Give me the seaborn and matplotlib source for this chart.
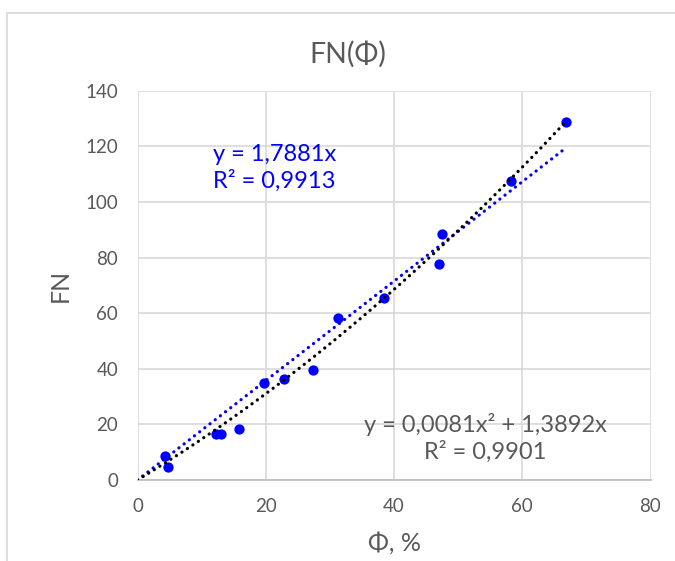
import numpy as np
import pandas as pd
import matplotlib
matplotlib.use("Agg")
import matplotlib.pyplot as plt
from matplotlib.patches import Rectangle
import seaborn as sns

# ---- data ----
phi = [4.3, 4.7, 12.3, 13.0, 15.9, 19.8, 22.8, 27.3, 31.3, 38.5, 47.0, 47.5, 58.2, 66.9]
fn = [8.6, 4.8, 16.5, 16.4, 18.2, 34.8, 36.3, 39.6, 58.3, 65.6, 77.6, 88.6, 107.6, 128.7]
lin_coef = 1.7881          # y = a*x
poly_coef = [0.0081, 1.3892]  # y = b*x^2 + c*x
x_ticks = [0, 20, 40, 60, 80]
y_ticks = [0, 20, 40, 60, 80, 100, 120, 140]
title = "FN(Φ)"
xlabel = "Φ, %"
ylabel = "FN"
lin_text = "y = 1,7881x\nR² = 0,9913"
poly_text = "y = 0,0081x² + 1,3892x\nR² = 0,9901"

sns.set_style("white")
plt.rcParams['font.family'] = ['Lato', 'DejaVu Sans']

GRAY = "#595959"
GRID = "#D9D9D9"
BLUE = "#0000FF"

W, H = 675, 561
fig = plt.figure(figsize=(W / 100, H / 100), dpi=100)
fig.patch.set_facecolor("white")

# outer chart border
fig.patches.append(Rectangle((7 / W, -0.1), 1.2, 1 - 13 / H + 0.1, transform=fig.transFigure,
                             fill=False, edgecolor=GRID, lw=1.2, zorder=0))

left, right = 137.5 / W, 650.5 / W
bottom, top = 1 - 480 / H, 1 - 90.8 / H
ax = fig.add_axes([left, bottom, right - left, top - bottom])

df = pd.DataFrame({"phi": phi, "fn": fn})
xs = np.linspace(0, max(phi), 200)
df_lin = pd.DataFrame({"x": xs, "y": lin_coef * xs})
df_poly = pd.DataFrame({"x": xs, "y": poly_coef[0] * xs ** 2 + poly_coef[1] * xs})

sns.scatterplot(data=df, x="phi", y="fn", ax=ax, color=BLUE, s=55, edgecolor=BLUE,
                linewidth=0, zorder=3, clip_on=False)
sns.lineplot(data=df_lin, x="x", y="y", ax=ax, color=BLUE, lw=2.3,
             linestyle=(0, (0.05, 2.0)), dash_capstyle="round", zorder=4)
sns.lineplot(data=df_poly, x="x", y="y", ax=ax, color="black", lw=2.3,
             linestyle=(0, (0.05, 2.0)), dash_capstyle="round", zorder=5)

ax.set_xlim(0, 80)
ax.set_ylim(0, 140)
ax.set_xticks(x_ticks)
ax.set_yticks(y_ticks)
ax.grid(True, color=GRID, lw=1.2)
ax.set_axisbelow(True)
for s in ["top", "right", "left"]:
    ax.spines[s].set_visible(False)
ax.spines["bottom"].set_color("#BFBFBF")
ax.spines["bottom"].set_linewidth(1.3)
ax.tick_params(axis="both", length=0, labelsize=13.5, labelcolor=GRAY)
ax.tick_params(axis="y", pad=14)
ax.tick_params(axis="x", pad=13)

ax.set_xlabel(xlabel, fontsize=18, color=GRAY)
ax.set_ylabel(ylabel, fontsize=18, color=GRAY)
ax.xaxis.set_label_coords((394 - 137.5) / 513, (480 - 543) / 389.2)
ax.yaxis.set_label_coords((60 - 137.5) / 513, (480 - 285) / 389.2)
ax.xaxis.label.set_va("center")
ax.yaxis.label.set_va("center")

fig.text(348 / W, 1 - 54 / H, title, ha="center", va="center", fontsize=20.5, color=GRAY)

fig.text(213 / W, 1 - 168 / H, lin_text, ha="left", va="center", fontsize=17,
         color=BLUE, linespacing=1.25)
fig.text(485 / W, 1 - 437.5 / H, poly_text, ha="center", va="center", fontsize=17,
         color=GRAY, linespacing=1.25)

fig.savefig("out.png", dpi=100)
